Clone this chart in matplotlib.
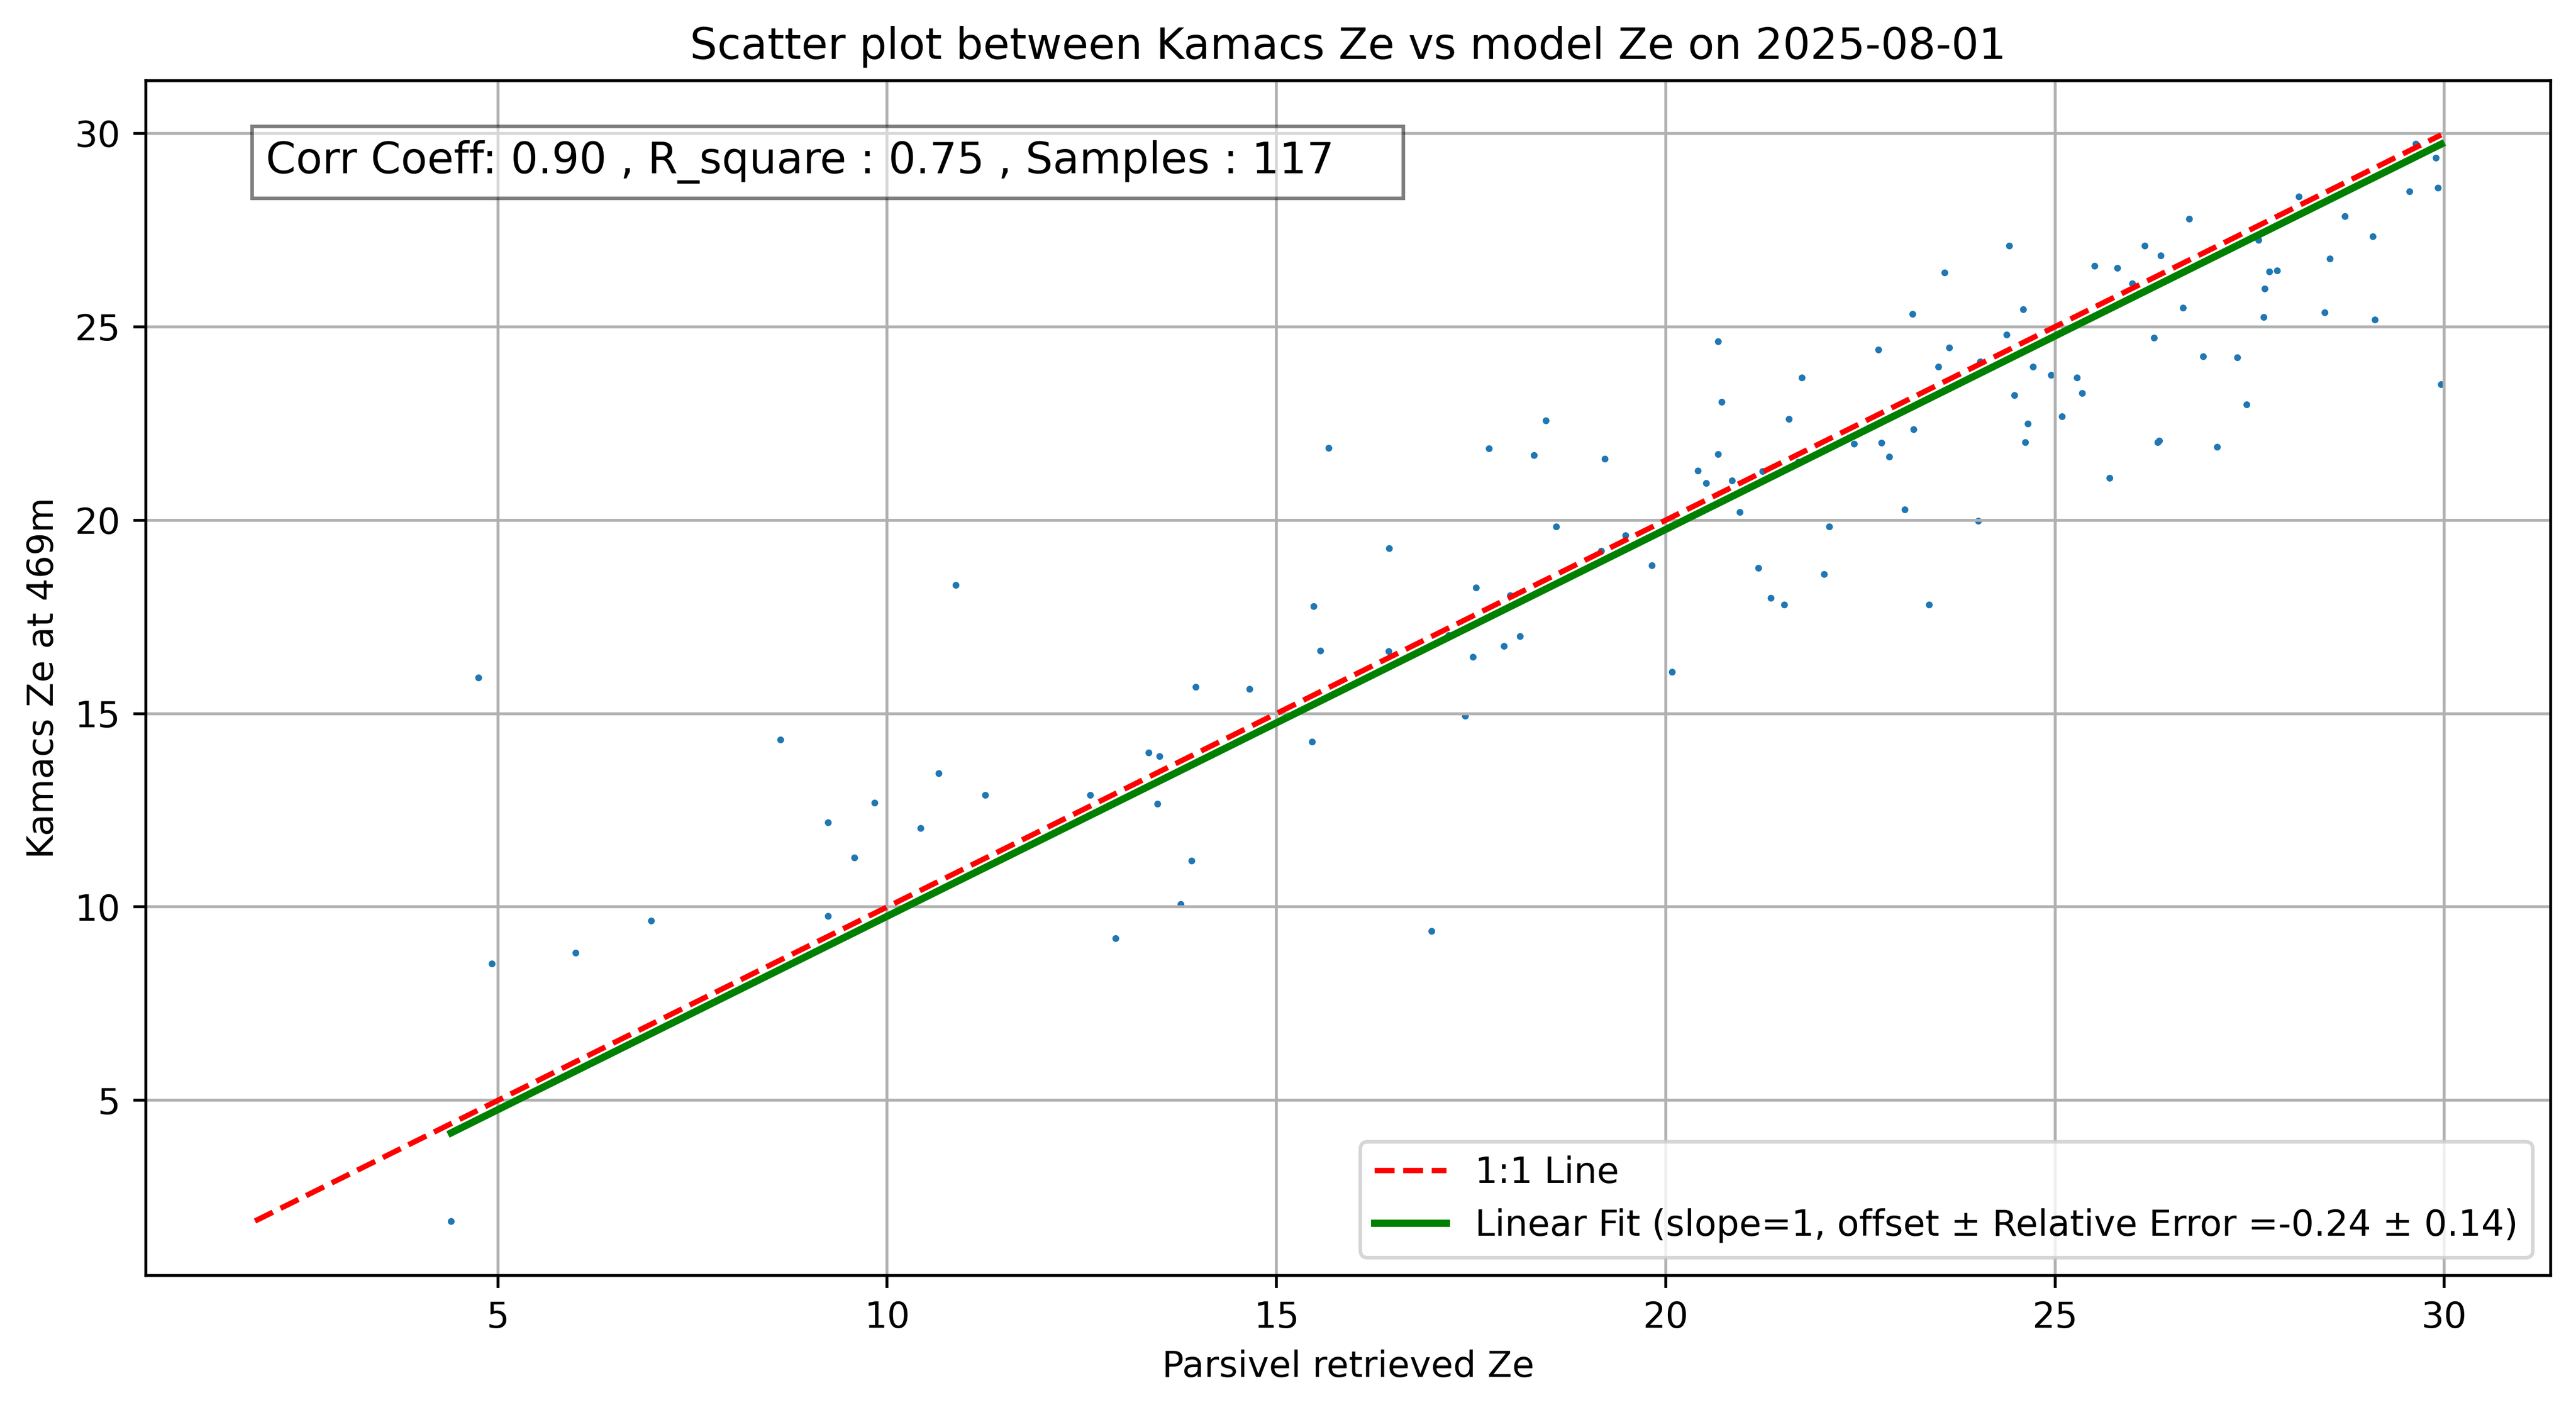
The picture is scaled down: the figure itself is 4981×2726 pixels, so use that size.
import numpy as np
import matplotlib
matplotlib.use("Agg")
import matplotlib.pyplot as plt

# Parsivel retrieved Ze (x) and Kamacs Ze at 469m (y)
x_vals = [
    29.63, 29.89, 29.92, 29.55, 28.13, 26.72, 28.72, 29.08, 24.41, 26.15,
    26.36, 27.61, 23.58, 25.51, 25.80, 25.99, 28.53, 27.75, 27.85, 27.69,
    24.59, 23.17, 26.64, 27.68, 28.46, 29.11, 20.67, 24.38, 26.27, 22.73,
    23.64, 23.50, 24.04, 24.72, 26.90, 27.34, 21.75, 24.95, 25.28, 20.72,
    24.48, 25.35, 29.96, 27.46, 21.58, 25.09, 23.18, 24.65, 22.42, 22.77,
    24.62, 26.32, 26.34, 27.08, 22.87, 20.67, 21.70, 20.41, 20.52, 21.24,
    20.85, 25.70, 20.95, 23.07, 24.01, 19.48, 22.10, 19.82, 21.19, 22.03,
    21.35, 21.52, 23.38, 20.08, 19.22,
    10.88, 10.66, 10.43, 11.26, 12.61, 12.93, 13.36, 13.50, 13.47, 13.91,
    13.77, 13.96, 14.65, 15.67, 15.48, 15.56, 15.46, 16.45, 16.44, 16.99,
    17.21, 17.56, 17.52, 17.42, 17.73, 18.46, 18.31, 18.59, 18.00, 17.92,
    18.13, 19.17,
    4.75, 4.92, 6.00, 6.97, 4.40, 8.63, 9.24, 9.58, 9.84, 9.24,
]
y_vals = [
    29.73, 29.37, 28.59, 28.50, 28.36, 27.79, 27.86, 27.34, 27.09, 27.09,
    26.84, 27.24, 26.40, 26.57, 26.52, 26.12, 26.76, 26.43, 26.45, 25.98,
    25.45, 25.33, 25.49, 25.25, 25.37, 25.18, 24.62, 24.79, 24.72, 24.41,
    24.46, 23.97, 24.10, 23.97, 24.23, 24.20, 23.68, 23.75, 23.68, 23.06,
    23.23, 23.29, 23.51, 22.99, 22.62, 22.68, 22.35, 22.49, 21.97, 22.00,
    22.01, 22.01, 22.05, 21.89, 21.64, 21.70, 21.51, 21.28, 20.96, 21.26,
    21.03, 21.09, 20.21, 20.27, 19.98, 19.60, 19.83, 18.83, 18.77, 18.60,
    17.99, 17.81, 17.81, 16.08, 21.58,
    18.32, 13.46, 12.04, 12.90, 12.90, 9.19, 13.99, 13.90, 12.67, 11.20,
    10.07, 15.69, 15.63, 21.86, 17.77, 16.63, 14.27, 19.27, 16.61, 9.38,
    17.02, 18.26, 16.46, 14.94, 21.85, 22.58, 21.68, 19.83, 18.05, 16.74,
    17.00, 19.20,
    15.93, 8.54, 8.82, 9.65, 1.88, 14.32, 12.19, 11.28, 12.69, 9.77,
]

corr_coeff = 0.90
r_square = 0.75
n_samples = 117
fit_slope = 1
fit_offset = -0.24
fit_rel_err = 0.14
date_str = "2025-08-01"

x = np.array(x_vals)
y = np.array(y_vals)

W, H = 4981, 2726
fig = plt.figure(figsize=(W / 500, H / 500), dpi=500)
ax = fig.add_axes([281.7 / W, 1 - 2465.7 / H, (4931.7 - 281.7) / W, (2465.7 - 155.7) / H])

ax.scatter(x, y, s=3.6, linewidths=0, color="#1f77b4")

lo = min(x.min(), y.min())
hi = max(x.max(), y.max())
ax.plot([lo, hi], [lo, hi], "r--", lw=1.5, label="1:1 Line")

xf = np.array([x.min(), x.max()])
ax.plot(xf, fit_slope * xf + fit_offset, color="green", lw=2,
        label=f"Linear Fit (slope={fit_slope}, offset \u00b1 Relative Error ={fit_offset:.2f} \u00b1 {fit_rel_err:.2f})")

ax.text(0.05, 0.95,
        f"Corr Coeff: {corr_coeff:.2f} , R_square : {r_square:.2f} , Samples : {n_samples}    ",
        transform=ax.transAxes, fontsize=12, va="top",
        bbox=dict(facecolor="white", alpha=0.5))

ax.set_title(f"Scatter plot between Kamacs Ze vs model Ze on {date_str}")
ax.set_xlabel("Parsivel retrieved Ze")
ax.set_ylabel("Kamacs Ze at 469m")
ax.grid(True)
ax.legend(loc="lower right")

fig.savefig("out.png", dpi=500)
